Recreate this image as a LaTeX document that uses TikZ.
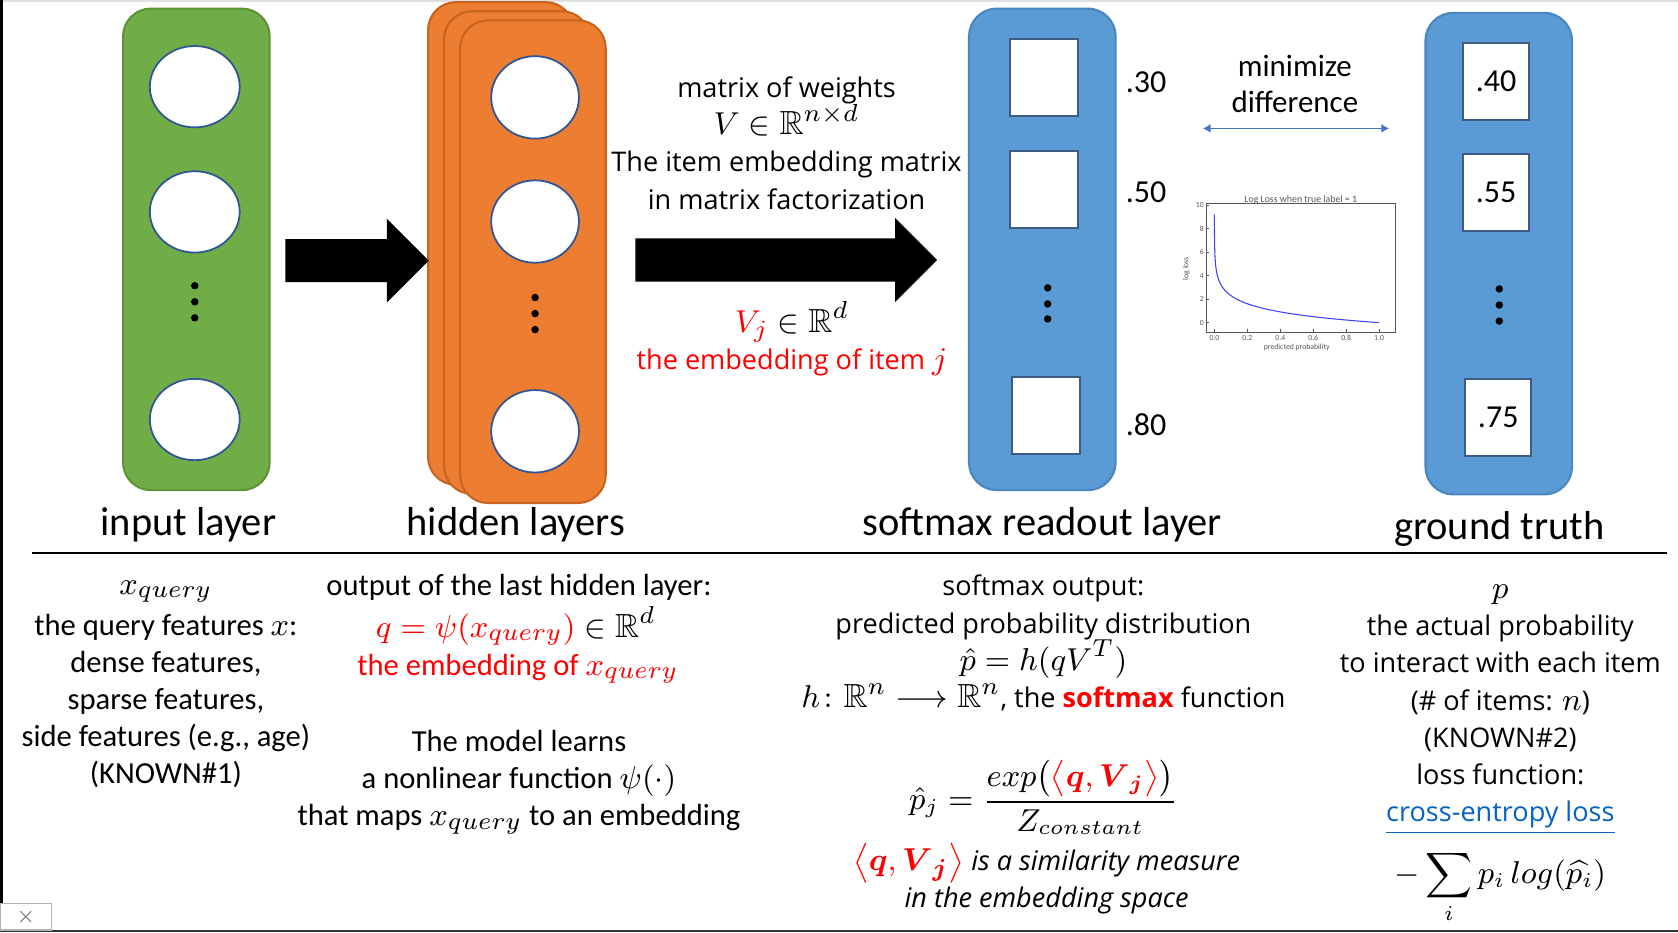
\documentclass[tikz,border=0pt]{standalone}
\usepackage{amsmath,amssymb}
\usepackage{fontspec}
\setmainfont{Carlito}
\newfontfamily\segoe{Open Sans}
\usetikzlibrary{shapes.geometric,shapes.arrows,arrows.meta}

\newlength\pxu
\setlength\pxu{0.0107cm}
\newcommand\mathL[1]{{\fontsize{9.5}{10.6}\selectfont$#1$}}
\lineskiplimit=-5pt

\definecolor{inGreen}{HTML}{70AD47}
\definecolor{inGreenLine}{HTML}{5E9438}
\definecolor{hidOrange}{HTML}{ED7D31}
\definecolor{hidOrangeLine}{HTML}{C8641F}
\definecolor{outBlue}{HTML}{5B9BD5}
\definecolor{outBlueLine}{HTML}{4A86BF}
\definecolor{neuronLine}{HTML}{2F5597}
\definecolor{cellLine}{HTML}{3E5C84}
\definecolor{diffBlue}{HTML}{4472C4}
\definecolor{linkBlue}{HTML}{0563C1}
\definecolor{plotGray}{HTML}{555555}

\begin{document}
\begin{tikzpicture}[x=0.0107cm, y=-0.0107cm,
	layerBox/.style={rectangle, rounded corners=26\pxu, minimum width=137\pxu, minimum height=450\pxu, inner sep=0pt, line width=0.6pt},
	neuron/.style={ellipse, fill=white, draw=neuronLine, line width=0.5pt, minimum width=84\pxu, minimum height=76\pxu, inner sep=0pt},
	cell/.style={rectangle, fill=white, draw=cellLine, line width=0.6pt, minimum width=63\pxu, minimum height=72\pxu, inner sep=0pt},
	vdot/.style={circle, fill=black, minimum size=7\pxu, inner sep=0pt},
	bigArrow/.style={single arrow, fill=black, minimum width=77\pxu, single arrow head extend=19\pxu, single arrow head indent=0pt, inner xsep=0pt, inner ysep=19.5\pxu, anchor=tail},
	layerLabel/.style={font=\fontsize{11.5}{13}\selectfont},
	bodyText/.style={align=center, font=\fontsize{8.7}{10.5}\selectfont},
	segText/.style={align=center, font=\segoe\fontsize{7.7}{10.6}\selectfont},
	numText/.style={font=\fontsize{9.1}{11}\selectfont},
	tickText/.style={font=\fontsize{2.2}{2.5}\selectfont, text=plotGray, inner sep=0.5pt}]
	\useasboundingbox (0,0) rectangle (1568,871);
	\fill[white] (0,0) rectangle (1568,871);

	% window frame
	\draw[gray!25, line width=1.5\pxu] (0,0.75) -- (1568,0.75);
	\fill[black] (0,0) rectangle (2.5,844);
	\fill[black!80] (0,869) rectangle (1568,871);
	\node[rectangle, fill=white, draw=gray!60, line width=0.4pt, minimum width=48\pxu, minimum height=25\pxu, inner sep=0pt](closeBox) at (24,856.5){};
	\draw[gray, line width=0.3pt] (closeBox.center) ++(-5,-5) -- ++(10,10) ++(-10,0) -- ++(10,-10);

	% layers
	\node[layerBox, fill=inGreen, draw=inGreenLine](inBox) at (183.5,233){};
	\node[layerBox, fill=hidOrange, draw=hidOrangeLine, minimum width=136\pxu, minimum height=451\pxu](hidBack) at (468,227.5){};
	\node[layerBox, fill=hidOrange, draw=hidOrangeLine, minimum width=136\pxu, minimum height=451\pxu](hidMid) at (483,236){};
	\node[layerBox, fill=hidOrange, draw=hidOrangeLine, minimum width=136\pxu, minimum height=451\pxu](hidFront) at (498,244.5){};
	\node[layerBox, fill=outBlue, draw=outBlueLine](softBox) at (974,233){};
	\node[layerBox, fill=outBlue, draw=outBlueLine](truthBox) at (1400.5,237){};

	% neurons and cells
	\node[neuron](inOne) at (182,81){};
	\node[neuron](inTwo) at (182,198){};
	\node[neuron](inLast) at (182,392){};
	\node[neuron, minimum width=82\pxu, minimum height=77\pxu](hidOne) at (500,91){};
	\node[neuron, minimum width=82\pxu, minimum height=77\pxu](hidTwo) at (500,207){};
	\node[neuron, minimum width=82\pxu, minimum height=77\pxu](hidLast) at (500,403){};
	\node[cell](softOne) at (975.5,72.5){};
	\node[cell](softTwo) at (975.5,177){};
	\node[cell](softLast) at (977.5,388){};
	\node[cell, minimum width=62\pxu, font=\fontsize{9.1}{11}\selectfont](truthOne) at (1398,76){.40};
	\node[cell, minimum width=62\pxu, font=\fontsize{9.1}{11}\selectfont](truthTwo) at (1398,180){.55};
	\node[cell, minimum width=62\pxu, font=\fontsize{9.1}{11}\selectfont](truthLast) at (1400,390){.75};

	\node[vdot](inDotA) at (182,267){};
	\node[vdot](inDotB) at (182,282){};
	\node[vdot](inDotC) at (182,297){};
	\node[vdot](hidDotA) at (500,278){};
	\node[vdot](hidDotB) at (500,293){};
	\node[vdot](hidDotC) at (500,308){};
	\node[vdot](softDotA) at (979,269){};
	\node[vdot](softDotB) at (979,284){};
	\node[vdot](softDotC) at (979,298){};
	\node[vdot](truthDotA) at (1401,270){};
	\node[vdot](truthDotB) at (1401,285){};
	\node[vdot](truthDotC) at (1401,300){};

	% block arrows
	\node[bigArrow, minimum height=134\pxu](arrowIn) at (266,243.5){};
	\node[bigArrow, minimum height=282\pxu](arrowOut) at (593,243){};

	\node[segText](weightText) at (735,133.5){matrix of weights\\\mathL{V\in\mathbb{R}^{n\times d}}\\The item embedding matrix\\in matrix factorization};
	\node[segText, text=red](itemText) at (740,316.5){\mathL{V_j \color{black}\in\mathbb{R}^d}\\the embedding of item \mathL{j}};

	% layer labels
	\node[layerLabel](inLabel) at (176,490){input layer};
	\node[layerLabel](hidLabel) at (482,490){hidden layers};
	\node[layerLabel](softLabel) at (974,490){softmax readout layer};
	\node[layerLabel](truthLabel) at (1401,494){ground truth};

	\node[numText](softValOne) at (1071,77){.30};
	\node[numText](softValTwo) at (1071,180){.50};
	\node[numText](softValLast) at (1071,397){.80};

	% minimize difference
	\node[bodyText, font=\fontsize{8.8}{10}\selectfont](diffText) at (1210,78.5){minimize\\difference};
	\coordinate (diffLeft) at (1124,120);
	\coordinate (diffRight) at (1298,120);
	\draw[{Latex[length=2.2pt,width=2.6pt]}-{Latex[length=2.2pt,width=2.6pt]}, diffBlue, line width=0.45pt] (diffLeft) -- (diffRight);

	% log loss plot
	\node[rectangle, draw=plotGray, line width=0.3pt, minimum width=177\pxu, minimum height=121\pxu, inner sep=0pt](lossFrame) at (1215.5,250.5){};
	\node[tickText, font=\fontsize{2.8}{3}\selectfont](lossTitle) at (1215.5,186.5){Log Loss when true label = 1};
	\begin{scope}[shift={(1134.8,301.5)}, x=153.9\pxu, y=10.99\pxu]
		\draw[blue!75, line width=0.3pt, domain=0:9.2, samples=120, variable=\t] plot ({exp(-\t)}, {\t});
		\foreach \i/\lab in {0/0.0,1/0.2,2/0.4,3/0.6,4/0.8,5/1.0}{
			\draw[plotGray, line width=0.2pt] (\i*0.2,-0.86) -- ++(0,0.3);
			\node[tickText, below](xTick\i) at (\i*0.2,-0.86){\lab};
		}
		\foreach \i/\lab in {0/0,1/2,2/4,3/6,4/8,5/10}{
			\draw[plotGray, line width=0.2pt] (-0.05,\i*2) -- ++(0.02,0);
			\node[tickText, left](yTick\i) at (-0.05,\i*2){\lab};
		}
		\node[tickText](xAxisLabel) at (0.5,-2.1){predicted probability};
		\node[tickText, rotate=90](yAxisLabel) at (-0.17,4.6){log loss};
	\end{scope}

	% separator
	\coordinate (sepLeft) at (30,517);
	\coordinate (sepRight) at (1558,517);
	\draw[black, line width=0.5pt] (sepLeft) -- (sepRight);

	% input description
	\node(queryVar) at (155,553){\mathL{x_{query}}};
	\node[bodyText](queryText) at (155,655){the query features \mathL{x}:\\dense features,\\sparse features,\\side features (e.g., age)\\(KNOWN\#1)};

	% hidden description
	\node[bodyText](hidOutText) at (485,549){output of the last hidden layer:};
	\node[text=red](qFormula) at (482,585){\mathL{q=\psi\!\left(x_{query}\right) \color{black}\in\mathbb{R}^d}};
	\node[bodyText, text=red](qEmbedText) at (484,625){the embedding of \mathL{x_{query}}};
	\node[bodyText](modelText) at (485,731){The model learns\\a nonlinear function \mathL{\psi(\cdot)}\\that maps \mathL{x_{query}} to an embedding};

	% softmax description
	\node[segText](softText) at (975,601){softmax output:\\predicted probability distribution\\\mathL{\hat{p}=h(qV^T)}\\\mathL{h\colon\mathbb{R}^n\longrightarrow\mathbb{R}^n}, the {\color{red}\bfseries softmax} function};
	\node(softFormula) at (975,745){{\fontsize{8.7}{10}\selectfont$\displaystyle \hat{p}_j=\frac{exp\bigl({\color{red}\bigl\langle\boldsymbol{q},\boldsymbol{V}_{\boldsymbol{j}}\bigr\rangle}\bigr)}{Z_{constant}}$}};
	\node[segText](simText) at (978,821){\mathL{\color{red}\bigl\langle\boldsymbol{q},\boldsymbol{V}_{\boldsymbol{j}}\bigr\rangle} \itshape is a similarity measure\\\itshape in the embedding space};

	% ground truth description
	\node[segText](truthText) at (1402,663){\mathL{p}\\the actual probability\\to interact with each item\\(\# of items: \mathL{n})\\(KNOWN\#2)\\loss function:\\{\color{linkBlue}\underline{cross-entropy loss}}};
	\node[inner sep=0pt](lossSum) at (1402,829){{\fontsize{9}{10}\selectfont$\displaystyle -\sum_i p_i\, log(\widehat{p_i})$}};
\end{tikzpicture}
\end{document}
